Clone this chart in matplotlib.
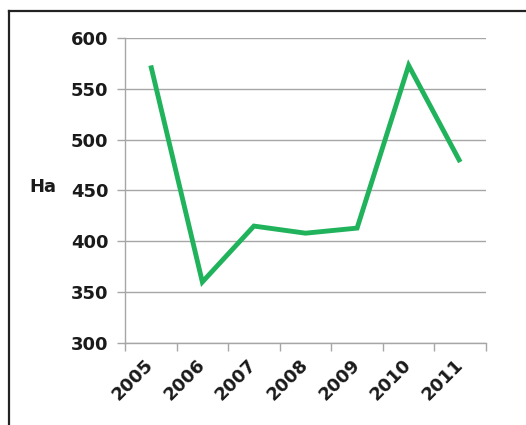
'''line chart of hectares per year'''
import matplotlib
matplotlib.use('Agg')
import matplotlib.pyplot as plt
from matplotlib.lines import Line2D
import numpy as np

# data
years = ['2005', '2006', '2007', '2008', '2009', '2010', '2011']
hectares = [573, 360, 415, 408, 413, 573, 478]
y_ticks = [300, 350, 400, 450, 500, 550, 600]

plt.rcParams['font.family'] = 'DejaVu Sans'
text_color = '#1a1a1a'
grid_color = '#a6a6a6'

fig = plt.figure(figsize=(5.26, 4.25), dpi=100)
ax = fig.add_axes([0.2376, 0.193, 0.6864, 0.7176])

x = np.arange(len(years))
ax.plot(x, hectares, color='#20b35c', linewidth=3.5, solid_capstyle='butt', solid_joinstyle='miter')

ax.set_xlim(-0.5, len(years) - 0.5)
ax.set_ylim(300, 600)
ax.set_yticks(y_ticks)
ax.set_yticklabels([str(v) for v in y_ticks], fontsize=13, fontweight='bold', color=text_color)
ax.set_xticks(x)
ax.set_xticklabels(years, fontsize=13, fontweight='bold', color=text_color,
                   rotation=45, ha='right', va='center', rotation_mode='anchor')
ax.set_xticks(np.arange(len(years) + 1) - 0.5, minor=True)
ax.tick_params(axis='x', which='major', length=0, pad=13.5)
ax.tick_params(axis='x', which='minor', length=6, color=grid_color, width=1)
ax.tick_params(axis='y', length=6, color=grid_color, width=1, pad=6)

ax.grid(axis='y', color=grid_color, linewidth=1)
ax.set_axisbelow(True)
for side in ['top', 'right']:
    ax.spines[side].set_visible(False)
for side in ['left', 'bottom']:
    ax.spines[side].set_color(grid_color)
    ax.spines[side].set_linewidth(1)

fig.text(0.055, 0.56, 'Ha', fontsize=13, fontweight='bold', color=text_color, va='center', ha='left')

# frame: top and left lines only
fig.add_artist(Line2D([9 / 526, 9 / 526], [0, 1 - 11 / 425], color='#222222', linewidth=1.6))
fig.add_artist(Line2D([9 / 526, 1], [1 - 11 / 425, 1 - 11 / 425], color='#222222', linewidth=1.6))

fig.savefig('out.png', dpi=100)
